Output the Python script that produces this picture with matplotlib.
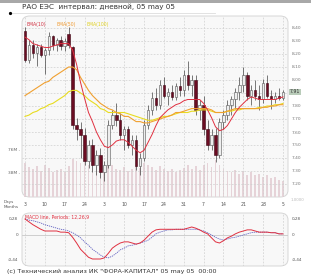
import matplotlib
matplotlib.use("Agg")
import matplotlib.pyplot as plt
from matplotlib.patches import FancyBboxPatch, Rectangle
from matplotlib.lines import Line2D

plt.rcParams['font.family'] = ['DejaVu Sans']

# ---------------- data ----------------
date_labels = ['3', '10', '17', '24', '3', '10', '17', '24', '31', '7', '14', '21', '28', '5']
price_ticks = [8.40, 8.30, 8.20, 8.10, 8.00, 7.90, 7.80, 7.70, 7.60, 7.50, 7.40, 7.30, 7.20]

opens = [8.38, 8.15, 8.27, 8.21, 8.25, 8.19, 8.23, 8.34, 8.27, 8.31, 8.26, 8.35, 8.25, 7.65, 7.62, 7.58,
         7.38, 7.50, 7.35, 7.42, 7.29, 7.35, 7.65, 7.73, 7.69, 7.58, 7.62, 7.50, 7.54, 7.34, 7.40, 7.65,
         7.77, 7.86, 7.81, 7.96, 7.88, 7.91, 7.87, 7.95, 7.92, 8.04, 7.96, 8.00, 7.77, 7.81, 7.62, 7.50,
         7.58, 7.42, 7.68, 7.73, 7.81, 7.85, 7.91, 7.96, 8.04, 7.88, 7.92, 7.88, 7.85, 7.98, 7.88, 7.85,
         7.88, 7.86]
highs = [8.41, 8.31, 8.31, 8.28, 8.28, 8.25, 8.37, 8.35, 8.32, 8.34, 8.32, 8.41, 8.26, 7.71, 7.68, 7.63,
         7.54, 7.55, 7.46, 7.48, 7.38, 7.69, 7.77, 7.82, 7.75, 7.65, 7.65, 7.58, 7.58, 7.44, 7.69, 7.81,
         7.91, 7.94, 8.00, 8.02, 7.94, 7.96, 7.98, 8.02, 8.08, 8.15, 8.04, 8.04, 7.85, 7.88, 7.69, 7.62,
         7.63, 7.71, 7.77, 7.85, 7.88, 7.94, 8.02, 8.10, 8.06, 7.96, 8.00, 7.96, 8.01, 8.04, 7.92, 7.91,
         7.94, 7.92]
lows = [8.14, 8.13, 8.17, 8.11, 8.18, 8.05, 8.19, 8.23, 8.22, 8.23, 8.22, 8.25, 7.62, 7.54, 7.40, 7.35,
        7.32, 7.29, 7.27, 7.25, 7.22, 7.32, 7.62, 7.65, 7.54, 7.46, 7.48, 7.42, 7.31, 7.27, 7.38, 7.62,
        7.73, 7.77, 7.78, 7.86, 7.81, 7.85, 7.85, 7.88, 7.88, 7.92, 7.88, 7.73, 7.69, 7.58, 7.46, 7.46,
        7.37, 7.40, 7.62, 7.69, 7.73, 7.78, 7.85, 7.91, 7.85, 7.81, 7.85, 7.77, 7.82, 7.86, 7.78, 7.82,
        7.85, 7.85]
closes = [8.15, 8.27, 8.21, 8.25, 8.19, 8.23, 8.34, 8.27, 8.31, 8.26, 8.30, 8.27, 7.65, 7.62, 7.58, 7.38,
          7.50, 7.35, 7.42, 7.29, 7.35, 7.65, 7.73, 7.69, 7.58, 7.62, 7.50, 7.54, 7.34, 7.40, 7.65, 7.77,
          7.86, 7.81, 7.96, 7.88, 7.91, 7.87, 7.95, 7.92, 8.04, 7.96, 8.00, 7.77, 7.81, 7.62, 7.50, 7.58,
          7.42, 7.68, 7.73, 7.81, 7.85, 7.91, 7.96, 8.04, 7.88, 7.92, 7.88, 7.85, 7.98, 7.88, 7.85, 7.88,
          7.86, 7.91]
volumes = [55, 48, 45, 50, 42, 52, 47, 40, 44, 46, 41, 50, 62, 58, 55, 60, 52, 57, 48, 55, 50, 58,
           52, 46, 44, 48, 42, 45, 50, 47, 55, 52, 48, 44, 50, 46, 42, 45, 40, 43, 47, 52, 45, 50,
           44, 52, 55, 48, 60, 52, 45, 42, 40, 44, 38, 42, 36, 40, 35, 38, 33, 36, 30, 32, 28, 26]
ema10 = [8.33, 8.31, 8.28, 8.27, 8.26, 8.25, 8.25, 8.26, 8.27, 8.28, 8.28, 8.28, 8.23, 8.12, 7.98, 7.86,
         7.75, 7.68, 7.60, 7.54, 7.49, 7.48, 7.50, 7.53, 7.54, 7.54, 7.52, 7.49, 7.46, 7.44, 7.46, 7.52,
         7.58, 7.65, 7.71, 7.74, 7.77, 7.79, 7.81, 7.82, 7.84, 7.85, 7.85, 7.85, 7.85, 7.82, 7.77, 7.71,
         7.64, 7.61, 7.62, 7.65, 7.70, 7.75, 7.79, 7.82, 7.85, 7.87, 7.86, 7.85, 7.85, 7.85, 7.85, 7.85,
         7.86, 7.87]
ema50 = [7.88, 7.90, 7.92, 7.94, 7.96, 7.98, 7.99, 8.02, 8.04, 8.06, 8.08, 8.10, 8.10, 8.08, 8.02, 7.97,
         7.92, 7.88, 7.85, 7.82, 7.80, 7.78, 7.77, 7.75, 7.74, 7.72, 7.72, 7.70, 7.68, 7.68, 7.67, 7.67,
         7.68, 7.69, 7.70, 7.71, 7.72, 7.73, 7.75, 7.75, 7.76, 7.77, 7.78, 7.78, 7.78, 7.78, 7.78, 7.77,
         7.75, 7.75, 7.75, 7.76, 7.77, 7.78, 7.78, 7.78, 7.78, 7.78, 7.78, 7.78, 7.79, 7.79, 7.80, 7.80,
         7.81, 7.81]
ema100 = [7.72, 7.73, 7.75, 7.76, 7.78, 7.79, 7.81, 7.82, 7.84, 7.86, 7.88, 7.91, 7.92, 7.92, 7.90, 7.88,
          7.85, 7.83, 7.81, 7.78, 7.77, 7.75, 7.75, 7.75, 7.75, 7.75, 7.74, 7.73, 7.72, 7.71, 7.70, 7.69,
          7.69, 7.70, 7.71, 7.72, 7.72, 7.73, 7.74, 7.75, 7.75, 7.75, 7.76, 7.76, 7.77, 7.77, 7.77, 7.76,
          7.75, 7.75, 7.75, 7.76, 7.76, 7.77, 7.77, 7.78, 7.78, 7.78, 7.78, 7.79, 7.79, 7.80, 7.80, 7.81,
          7.81, 7.82]
macd_line = [0.28, 0.23, 0.18, 0.14, 0.10, 0.07, 0.07, 0.07, 0.07, 0.05, 0.05, 0.04, -0.04, -0.14, -0.25,
             -0.32, -0.39, -0.42, -0.42, -0.42, -0.40, -0.32, -0.23, -0.18, -0.14, -0.12, -0.12, -0.14,
             -0.16, -0.14, -0.09, -0.02, 0.05, 0.09, 0.10, 0.10, 0.10, 0.10, 0.10, 0.10, 0.10, 0.12, 0.14,
             0.12, 0.09, 0.05, 0.02, -0.05, -0.12, -0.14, -0.10, -0.05, -0.02, 0.02, 0.05, 0.07, 0.09,
             0.09, 0.07, 0.05, 0.05, 0.05, 0.04, 0.04, 0.02, 0.02]
macd_signal = [0.28, 0.26, 0.25, 0.23, 0.21, 0.18, 0.16, 0.14, 0.12, 0.10, 0.09, 0.07, 0.04, 0.00, -0.05,
               -0.12, -0.18, -0.25, -0.30, -0.35, -0.39, -0.40, -0.37, -0.32, -0.26, -0.23, -0.19, -0.18,
               -0.16, -0.14, -0.12, -0.09, -0.04, 0.02, 0.05, 0.07, 0.09, 0.09, 0.10, 0.10, 0.10, 0.10,
               0.10, 0.10, 0.09, 0.07, 0.04, 0.00, -0.04, -0.07, -0.09, -0.07, -0.05, -0.04, -0.02, 0.00,
               0.02, 0.04, 0.05, 0.05, 0.05, 0.05, 0.04, 0.04, 0.02, 0.02]
macd_ticks = [0.28, 0.0, -0.44]
macd_tick_labels = ['0,28', '0', '-0,44']
vol_ticks = [76, 38]
vol_tick_labels = ['76M', '38M']

title = "РАО ЕЭС  интервал: дневной, 05 may 05"
caption = '(c) Технический анализ ИК "ФОРА-КАПИТАЛ" 05 may 05  00:00'

# ---------------- layout ----------------
W, H = 311, 276
fig = plt.figure(figsize=(W / 100, H / 100), dpi=100)
fig.patch.set_facecolor('white')


def fx(px):
    return px / W


def fy(py):
    return 1 - py / H


# top bar & title
fig.add_artist(Rectangle((0, fy(3)), 1, 3 / H, transform=fig.transFigure,
                         facecolor='#a8a8a8', edgecolor='none'))
fig.add_artist(Line2D([fx(10), fx(215)], [fy(12.5), fy(12.5)], transform=fig.transFigure,
                      color='#dddddd', lw=0.6))
fig.add_artist(Line2D([fx(10)], [fy(12.5)], transform=fig.transFigure, marker='o',
                      ms=1.3, color='black', lw=0))
fig.text(fx(22), fy(6.5), title, fontsize=5.2, color='#333333', va='center', ha='left')

n = len(closes)
xs = list(range(n))
px_per = (283 - 25) / (n - 1)
xl = (-(25 - 22) / px_per, (n - 1) + (288 - 283) / px_per)

# panel backgrounds
for (x0, y0, x1, y1) in [(22, 16, 288, 197), (22, 213, 288, 266)]:
    fig.add_artist(FancyBboxPatch((fx(x0), fy(y1)), fx(x1 - x0), (y1 - y0) / H,
                                  boxstyle="round,pad=0,rounding_size=0.025",
                                  transform=fig.transFigure, facecolor='#f8f8f8',
                                  edgecolor='#d6d6d6', lw=0.7, zorder=0))

main_rect = [fx(22), fy(197), fx(266), 181 / H]

# volume axes (behind)
axv = fig.add_axes(main_rect)
axv.set_facecolor('none')
axv.bar(xs, volumes, width=0.45, color='#e6d3d8', edgecolor='none')
axv.set_xlim(*xl)
axv.set_ylim(0, 76 * 181 / 47)
axv.axis('off')
for v, lab in zip(vol_ticks, vol_tick_labels):
    yv = 197 - v * 47 / 76
    fig.text(fx(20), fy(yv), lab + ' -', fontsize=3.2, color='#666666', ha='right', va='center')

# price axes
ax = fig.add_axes(main_rect)
ax.set_facecolor('none')
ax.set_xlim(*xl)
ymin = 8.40 - (197 - 28) / 130
ymax = 8.40 + (28 - 16) / 130
ax.set_ylim(ymin, ymax)
for s in ax.spines.values():
    s.set_visible(False)
tick_x = list(range(0, n, 5))
ax.set_xticks(tick_x)
ax.set_xticklabels(date_labels, fontsize=3.3, color='#555555')
ax.tick_params(axis='x', length=0, pad=3.5)
ax.yaxis.tick_right()
last = closes[-1]
ax.set_yticks(price_ticks)
ax.set_yticklabels(['' if abs(t - last) < 0.05 else '%.2f' % t for t in price_ticks],
                   fontsize=3.2, color='#777777')
ax.tick_params(axis='y', length=0, pad=3)
ax.grid(True, color='#cfcfcf', lw=0.5, ls=(0, (2.5, 2)))
ax.set_axisbelow(True)

# candles
bw = 0.62
for i in range(n):
    o, h, l, c = opens[i], highs[i], lows[i], closes[i]
    up = c >= o
    ax.vlines(i, l, h, color='#444444', lw=0.5, zorder=3)
    face = '#eeeeee' if up else '#6a0c22'
    edge = '#555555' if up else '#3c0512'
    ax.add_patch(Rectangle((i - bw / 2, min(o, c)), bw, max(abs(c - o), 0.004),
                           facecolor=face, edgecolor=edge, lw=0.4, zorder=4))

ax.plot(xs, ema100, color='#e8dc20', lw=0.8, zorder=5)
ax.plot(xs, ema50, color='#f0a030', lw=0.8, zorder=5)
ax.plot(xs, ema10, color='#e03040', lw=0.7, zorder=6)

ax.text(0.5, 8.43, 'EMA(10)', fontsize=3.3, color='#d03040', va='center')
ax.text(8.0, 8.43, 'EMA(50)', fontsize=3.3, color='#f09a30', va='center')
ax.text(15.5, 8.43, 'EMA(100)', fontsize=3.3, color='#e0d020', va='center')

# highlight last price
fig.text(fx(290), fy(28 + (8.40 - last) * 130), '%.2f' % last, fontsize=3.3, color='#333333',
         ha='left', va='center',
         bbox=dict(boxstyle='square,pad=0.15', facecolor='#b9ccb9', edgecolor='none'))

fig.text(fx(4), fy(202), 'Days', fontsize=3, color='#555555', ha='left', va='center')
fig.text(fx(4), fy(207), 'Months', fontsize=3, color='#555555', ha='left', va='center')
fig.text(fx(291), fy(200), '1.0000', fontsize=2.8, color='#bbbbbb', ha='left', va='center')

# MACD axes
axm = fig.add_axes([fx(22), fy(266), fx(266), 53 / H])
axm.set_facecolor('none')
axm.set_xlim(*xl)
k = 0.0175
axm.set_ylim(-(266 - 235) * k, (235 - 213) * k)
for s in axm.spines.values():
    s.set_visible(False)
axm.set_xticks(tick_x)
axm.set_xticklabels([])
axm.tick_params(length=0)
axm.set_yticks([])
axm.grid(True, axis='x', color='#cfcfcf', lw=0.5, ls=(0, (2.5, 2)))
axm.axhline(0, color='#c8c8c8', lw=0.6)
axm.plot(xs, macd_signal, color='#6060c0', lw=0.6, ls=(0, (1.5, 1)))
axm.plot(xs, macd_line, color='#e03040', lw=0.7)
axm.text(0.0, 0.31, 'MACD line, Periods: 12,26,9', fontsize=3.3, color='#e03040', va='center')
for v, lab in zip(macd_ticks, macd_tick_labels):
    yp = 235 - v / k
    fig.text(fx(18), fy(yp), lab, fontsize=3.0, color='#555555', ha='right', va='center')
    fig.text(fx(292), fy(yp), lab, fontsize=3.0, color='#555555', ha='left', va='center')

fig.text(fx(7), fy(271), caption, fontsize=4.6, color='#333333', ha='left', va='center')

fig.savefig('out.png', dpi=100)
